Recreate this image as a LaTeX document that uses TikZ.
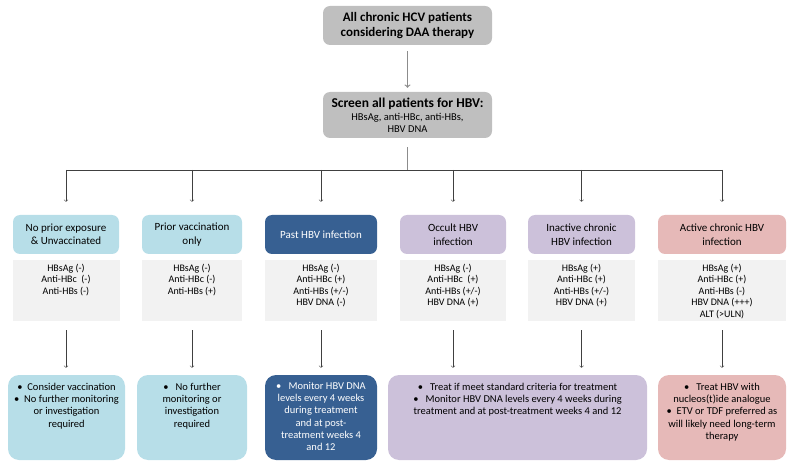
\documentclass[tikz,border=0pt]{standalone}
\usepackage{fontspec}
\setmainfont{Carlito}
\usepackage{tikz}

\definecolor{topgray}{HTML}{BFBFBF}
\definecolor{testgray}{HTML}{F2F2F2}
\definecolor{lightblue}{HTML}{B7DEE8}
\definecolor{darkblue}{HTML}{376092}
\definecolor{lilac}{HTML}{CCC1DA}
\definecolor{rose}{HTML}{E6B9B8}

% text set at the top of a box of fixed size
\newcommand{\toptext}[3]{\parbox[c][#1][t]{#2}{\centering #3}}

\begin{document}
\begin{tikzpicture}[x=1pt,y=-1pt,
  every node/.style={inner sep=0pt,text=black},
  title/.style={rounded corners=7pt,fill=topgray,align=center,minimum width=169pt},
  head/.style={rounded corners=7pt,minimum height=39pt,align=center,
    font=\fontsize{11}{13.5}\selectfont},
  test/.style={fill=testgray,minimum height=61pt,font=\fontsize{10}{11.5}\selectfont},
  act/.style={rounded corners=11pt,minimum height=85pt,font=\fontsize{10.5}{12.3}\selectfont},
  link/.style={draw=black!75,line width=0.6pt},
  grey link/.style={draw=black!45,line width=1.2pt}]
\useasboundingbox (0,0) rectangle (800,470);

\node[title,minimum height=39pt,font=\bfseries\fontsize{13}{14.5}\selectfont] (all) at (407.5,25.5)
  {All chronic HCV patients\\considering DAA therapy};
\node[title,minimum height=46pt] (screen) at (407.5,115)
  {\parbox{165pt}{\centering\bfseries\fontsize{13.5}{15}\selectfont Screen all patients for HBV:\par
   \vspace{1pt}\mdseries\fontsize{10.5}{12}\selectfont HBsAg, anti-HBc, anti-HBs,\\HBV DNA\par}};

% categories
\node[head,fill=lightblue,minimum width=106pt] (h1) at (66,234.5) {No prior exposure\\\& Unvaccinated};
\node[head,fill=lightblue,minimum width=100pt] (h2) at (192,234.5) {Prior vaccination\\only};
\node[head,fill=darkblue,minimum width=112pt,text=white] (h3) at (321,234.5) {Past HBV infection};
\node[head,fill=lilac,minimum width=106pt] (h4) at (453,234.5) {Occult HBV\\infection};
\node[head,fill=lilac,minimum width=107pt] (h5) at (581.5,234.5) {Inactive chronic\\HBV infection};
\node[head,fill=rose,minimum width=128pt] (h6) at (722,234.5) {Active chronic HBV\\infection};

% serology
\node[test] (t1) at (66,290.5) {\toptext{61pt}{107pt}{\vspace{4pt}HBsAg (-)\\Anti-HBc\ \ (-)\\Anti-HBs (-)}};
\node[test] (t2) at (192,290.5) {\toptext{61pt}{100pt}{\vspace{4pt}HBsAg (-)\\Anti-HBc (-)\\Anti-HBs (+)}};
\node[test] (t3) at (321,290.5) {\toptext{61pt}{112pt}{\vspace{4pt}HBsAg (-)\\Anti-HBc (+)\\Anti-HBs (+/-)\\HBV DNA (-)}};
\node[test] (t4) at (453,290.5) {\toptext{61pt}{106pt}{\vspace{4pt}HBsAg (-)\\Anti-HBc\ \ (+)\\Anti-HBs (+/-)\\HBV DNA (+)}};
\node[test] (t5) at (581.5,290.5) {\toptext{61pt}{107pt}{\vspace{4pt}HBsAg (+)\\Anti-HBc (+)\\Anti-HBs (+/-)\\HBV DNA (+)}};
\node[test] (t6) at (722,290.5) {\toptext{61pt}{128pt}{\vspace{4pt}HBsAg (+)\\Anti-HBc (+)\\Anti-HBs (-)\\HBV DNA (+++)\\ALT (>ULN)}};

% management
\node[act,fill=lightblue] (m1) at (66.5,417.5) {\toptext{85pt}{117pt}{\vspace{8pt}%
  \textbullet\ \ Consider vaccination\\\textbullet\ \ No further monitoring\\or investigation\\required}};
\node[act,fill=lightblue] (m2) at (192,417.5) {\toptext{85pt}{110pt}{\vspace{8pt}%
  \textbullet\ \ \ No further\\monitoring or\\investigation\\required}};
\node[act,fill=darkblue,text=white] (m3) at (321,417.5) {\toptext{85pt}{112pt}{\vspace{7pt}%
  \textbullet\ \ \ Monitor HBV DNA\\levels every 4 weeks\\during treatment\\and at post-\\treatment weeks 4\\and 12}};
\node[act,fill=lilac] (m45) at (517.5,417.5) {\toptext{85pt}{259pt}{\vspace{8pt}%
  \textbullet\ \ \ Treat if meet standard criteria for treatment\\
  \textbullet\ \ \ Monitor HBV DNA levels every 4 weeks during\\
  treatment and at post-treatment weeks 4 and 12}};
\node[act,fill=rose] (m6) at (722,417.5) {\toptext{85pt}{128pt}{\vspace{8pt}%
  \textbullet\ \ \ Treat HBV with\\nucleos(t)ide analogue\\
  \textbullet\ \ ETV or TDF preferred as\\will likely need long-term\\therapy}};

% connectors
\coordinate (bus) at (411,170);
\draw[grey link,->,shorten <=6pt,shorten >=4pt] (all) -- (screen);
\draw[grey link,shorten <=9pt] (screen.south) -- (screen.south |- bus);
\draw[link] (h1.north |- bus) -- (h6.north |- bus);
\foreach \i in {1,...,6}
  \draw[link,->,shorten >=13pt] (h\i.north |- bus) -- (h\i.north);
\foreach \i/\j in {1/1,2/2,3/3,4/45,5/45}
  \draw[link,->,shorten <=9pt,shorten >=7pt] (t\i.south) -- (t\i.south |- m\j.north);
\draw[link,->,shorten <=9pt,shorten >=7pt] (t6.south) -- (m6.north);
\end{tikzpicture}
\end{document}
